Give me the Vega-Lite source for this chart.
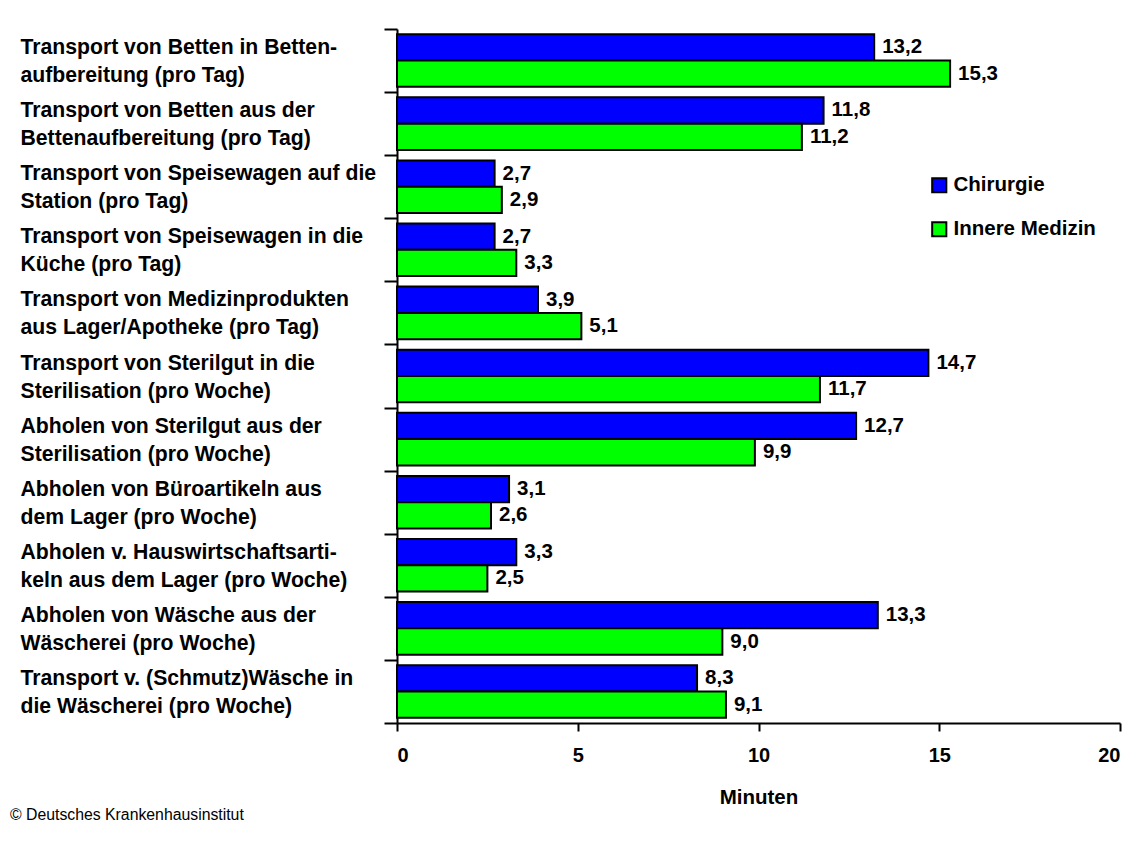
{
  "$schema": "https://vega.github.io/schema/vega-lite/v6.json",
  "width": 723,
  "height": 694,
  "padding": {"left": 10, "top": 18, "right": 5, "bottom": 5},
  "background": "white",
  "config": {
    "view": {"stroke": null},
    "font": "Liberation Sans",
    "locale": {"number": {"decimal": ",", "thousands": ".", "grouping": [3], "currency": ["", " €"]}}
  },
  "title": {
    "text": "© Deutsches Krankenhausinstitut",
    "orient": "bottom",
    "anchor": "start",
    "frame": "group",
    "dx": -387,
    "offset": 0,
    "font": "Liberation Sans",
    "fontSize": 15.8,
    "fontWeight": "normal",
    "color": "black"
  },
  "data": {
    "values": [
      {"Tätigkeit": "Transport von Betten in Betten-|aufbereitung (pro Tag)", "Bereich": "Chirurgie", "Minuten": 13.2},
      {"Tätigkeit": "Transport von Betten in Betten-|aufbereitung (pro Tag)", "Bereich": "Innere Medizin", "Minuten": 15.3},
      {"Tätigkeit": "Transport von Betten aus der|Bettenaufbereitung (pro Tag)", "Bereich": "Chirurgie", "Minuten": 11.8},
      {"Tätigkeit": "Transport von Betten aus der|Bettenaufbereitung (pro Tag)", "Bereich": "Innere Medizin", "Minuten": 11.2},
      {"Tätigkeit": "Transport von Speisewagen auf die|Station (pro Tag)", "Bereich": "Chirurgie", "Minuten": 2.7},
      {"Tätigkeit": "Transport von Speisewagen auf die|Station (pro Tag)", "Bereich": "Innere Medizin", "Minuten": 2.9},
      {"Tätigkeit": "Transport von Speisewagen in die|Küche (pro Tag)", "Bereich": "Chirurgie", "Minuten": 2.7},
      {"Tätigkeit": "Transport von Speisewagen in die|Küche (pro Tag)", "Bereich": "Innere Medizin", "Minuten": 3.3},
      {"Tätigkeit": "Transport von Medizinprodukten|aus Lager/Apotheke (pro Tag)", "Bereich": "Chirurgie", "Minuten": 3.9},
      {"Tätigkeit": "Transport von Medizinprodukten|aus Lager/Apotheke (pro Tag)", "Bereich": "Innere Medizin", "Minuten": 5.1},
      {"Tätigkeit": "Transport von Sterilgut in die|Sterilisation (pro Woche)", "Bereich": "Chirurgie", "Minuten": 14.7},
      {"Tätigkeit": "Transport von Sterilgut in die|Sterilisation (pro Woche)", "Bereich": "Innere Medizin", "Minuten": 11.7},
      {"Tätigkeit": "Abholen von Sterilgut aus der|Sterilisation (pro Woche)", "Bereich": "Chirurgie", "Minuten": 12.7},
      {"Tätigkeit": "Abholen von Sterilgut aus der|Sterilisation (pro Woche)", "Bereich": "Innere Medizin", "Minuten": 9.9},
      {"Tätigkeit": "Abholen von Büroartikeln aus|dem Lager (pro Woche)", "Bereich": "Chirurgie", "Minuten": 3.1},
      {"Tätigkeit": "Abholen von Büroartikeln aus|dem Lager (pro Woche)", "Bereich": "Innere Medizin", "Minuten": 2.6},
      {"Tätigkeit": "Abholen v. Hauswirtschaftsarti-|keln aus dem Lager (pro Woche)", "Bereich": "Chirurgie", "Minuten": 3.3},
      {"Tätigkeit": "Abholen v. Hauswirtschaftsarti-|keln aus dem Lager (pro Woche)", "Bereich": "Innere Medizin", "Minuten": 2.5},
      {"Tätigkeit": "Abholen von Wäsche aus der|Wäscherei (pro Woche)", "Bereich": "Chirurgie", "Minuten": 13.3},
      {"Tätigkeit": "Abholen von Wäsche aus der|Wäscherei (pro Woche)", "Bereich": "Innere Medizin", "Minuten": 9.0},
      {"Tätigkeit": "Transport v. (Schmutz)Wäsche in|die Wäscherei (pro Woche)", "Bereich": "Chirurgie", "Minuten": 8.3},
      {"Tätigkeit": "Transport v. (Schmutz)Wäsche in|die Wäscherei (pro Woche)", "Bereich": "Innere Medizin", "Minuten": 9.1}
    ]
  },
  "encoding": {
    "y": {
      "field": "Tätigkeit",
      "type": "nominal",
      "sort": null,
      "scale": {"paddingInner": 0, "paddingOuter": 0},
      "axis": {
        "title": null,
        "labelExpr": "split(datum.label, '|')",
        "labelAlign": "left",
        "labelBaseline": "middle",
        "labelPadding": 364,
        "labelOffset": -13,
        "labelLimit": 400,
        "labelFont": "Liberation Sans",
        "labelFontSize": 21.2,
        "labelFontWeight": "bold",
        "labelColor": "black",
        "labelLineHeight": 28,
        "tickBand": "extent",
        "tickSize": 13,
        "tickWidth": 2,
        "tickColor": "black",
        "domainColor": "black",
        "domainWidth": 2,
        "grid": false
      }
    },
    "yOffset": {
      "field": "Bereich",
      "type": "nominal",
      "sort": ["Chirurgie", "Innere Medizin"],
      "scale": {"paddingInner": 0, "paddingOuter": 0.2}
    },
    "x": {
      "field": "Minuten",
      "type": "quantitative",
      "scale": {"domain": [0, 20], "nice": false},
      "axis": {
        "title": "Minuten",
        "values": [0, 5, 10, 15, 20],
        "format": "d",
        "labelFont": "Liberation Sans",
        "labelFontSize": 20,
        "labelFontWeight": "bold",
        "labelColor": "black",
        "labelPadding": 14,
        "titleFont": "Liberation Sans",
        "titleFontSize": 20.5,
        "titleFontWeight": "bold",
        "titleColor": "black",
        "titlePadding": 22,
        "tickSize": 8,
        "tickWidth": 2,
        "tickColor": "black",
        "domainColor": "black",
        "domainWidth": 2,
        "grid": false
      }
    }
  },
  "layer": [
    {
      "mark": {"type": "bar", "stroke": "black", "strokeWidth": 2, "opacity": 1},
      "encoding": {
        "color": {
          "field": "Bereich",
          "type": "nominal",
          "scale": {"domain": ["Chirurgie", "Innere Medizin"], "range": ["#0000ff", "#00ff00"]},
          "legend": {
            "title": null,
            "orient": "none",
            "legendX": 532,
            "legendY": 146,
            "symbolType": "square",
            "symbolSize": 200,
            "symbolStrokeColor": "black",
            "symbolStrokeWidth": 2,
            "symbolOpacity": 1,
            "labelFont": "Liberation Sans",
            "labelFontSize": 20.5,
            "labelFontWeight": "bold",
            "labelColor": "black",
            "labelOffset": 4,
            "labelLimit": 300,
            "rowPadding": 21
          }
        }
      }
    },
    {
      "mark": {
        "type": "text",
        "align": "left",
        "baseline": "middle",
        "dx": 8,
        "font": "Liberation Sans",
        "fontSize": 20.5,
        "fontWeight": "bold",
        "color": "black"
      },
      "encoding": {
        "text": {"field": "Minuten", "type": "quantitative", "format": ".1f"}
      }
    }
  ]
}
